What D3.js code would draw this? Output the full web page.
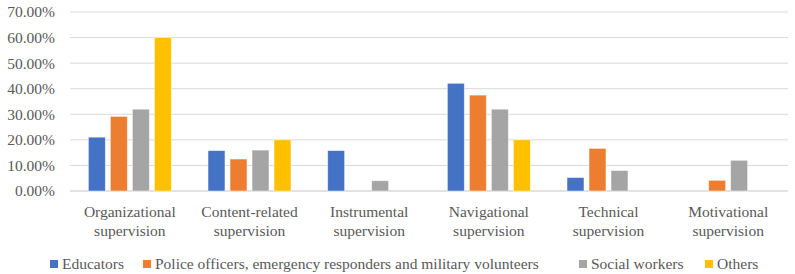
<!DOCTYPE html>
<html>
<head>
<meta charset="utf-8">
<script src="https://cdn.jsdelivr.net/npm/d3@7"></script>
<style>
  body { margin: 0; background: #fff; }
</style>
</head>
<body>
<div id="chart"></div>
<script>
// Categories (two-line labels) and series
var categories = [
    ["Organizational", "supervision"],
    ["Content-related", "supervision"],
    ["Instrumental", "supervision"],
    ["Navigational", "supervision"],
    ["Technical", "supervision"],
    ["Motivational", "supervision"]
];
var seriesNames = ["Educators", "Police officers, emergency responders and military volunteers", "Social workers", "Others"];
var educators = [21.05, 15.79, 15.79, 42.11, 5.26, 0];
var police = [29.17, 12.5, 0, 37.5, 16.67, 4.17];
var socialWorkers = [32, 16, 4, 32, 8, 12];
var others = [60, 20, 0, 20, 0, 0];
var yTicks = [0, 10, 20, 30, 40, 50, 60, 70];
var colors = ["#4472C4", "#ED7D31", "#A5A5A5", "#FFC000"];

var allSeries = [educators, police, socialWorkers, others];

var width = 795, height = 274;
var margin = { top: 12, right: 7, bottom: 83, left: 70 };
var innerW = width - margin.left - margin.right;
var innerH = height - margin.top - margin.bottom;

// serif face like the original (Times New Roman)
function serif(sel) {
    sel.attr("fill", "#595959")
        .style("font-family", "'Liberation Serif', 'Times New Roman', serif", "important")
        .style("font-size", "15.5px", "important");
}

var svg = d3.select("#chart").append("svg")
    .attr("width", width)
    .attr("height", height);

var g = svg.append("g").attr("transform", "translate(" + margin.left + "," + margin.top + ")");

var x0 = d3.scaleBand()
    .domain(d3.range(categories.length))
    .range([0, innerW]);

var x1 = d3.scaleBand()
    .domain(d3.range(seriesNames.length))
    .range([0, 88])
    .paddingInner(0.23)
    .paddingOuter(0.115);

var y = d3.scaleLinear().domain([0, 70]).range([innerH, 0]);

// gridlines
g.append("g")
    .selectAll("line")
    .data(yTicks)
    .enter()
    .append("line")
    .attr("x1", 0)
    .attr("x2", innerW)
    .attr("y1", function(d) { return y(d); })
    .attr("y2", function(d) { return y(d); })
    .attr("stroke", "#D9D9D9")
    .attr("stroke-width", function(d) { return d === 0 ? 1.5 : 1; });

// y tick labels
g.append("g")
    .selectAll("text")
    .data(yTicks)
    .enter()
    .append("text")
    .attr("x", -15)
    .attr("y", function(d) { return y(d); })
    .attr("dy", "0.35em")
    .attr("text-anchor", "end")
    .call(serif)
    .text(function(d) { return d.toFixed(2) + "%"; });

// bars
var groups = g.selectAll(".grp")
    .data(categories)
    .enter()
    .append("g")
    .attr("class", "grp")
    .attr("transform", function(d, i) {
        return "translate(" + (x0(i) + x0.bandwidth() / 2 - 44) + ",0)";
    });

groups.selectAll("rect")
    .data(function(d, i) {
        return allSeries.map(function(s, k) { return { k: k, v: s[i] }; });
    })
    .enter()
    .append("rect")
    .filter(function(d) { return d.v > 0; })
    .attr("x", function(d) { return x1(d.k); })
    .attr("width", x1.bandwidth())
    .attr("y", function(d) { return y(d.v); })
    .attr("height", function(d) { return y(0) - y(d.v); })
    .attr("fill", function(d) { return colors[d.k]; })
    .attr("stroke", "#fff")
    .attr("stroke-opacity", 0.6)
    .attr("stroke-width", 0.75);

// category labels
var labels = g.append("g")
    .selectAll("text")
    .data(categories)
    .enter()
    .append("text")
    .attr("text-anchor", "middle")
    .attr("x", function(d, i) { return x0(i) + x0.bandwidth() / 2; })
    .attr("y", innerH + 26)
    .call(serif);

labels.selectAll("tspan")
    .data(function(d) { return d; })
    .enter()
    .append("tspan")
    .attr("x", function() { return d3.select(this.parentNode).attr("x"); })
    .attr("dy", function(d, i) { return i === 0 ? 0 : 19; })
    .text(function(d) { return d; });

// legend
var legendX = [50, 143, 579, 705];
var legend = svg.append("g")
    .selectAll("g")
    .data(seriesNames)
    .enter()
    .append("g")
    .attr("transform", function(d, i) { return "translate(" + legendX[i] + ",264)"; });

legend.append("rect")
    .attr("x", 0)
    .attr("y", -4)
    .attr("width", 8)
    .attr("height", 8)
    .attr("fill", function(d, i) { return colors[i]; });

legend.append("text")
    .attr("x", 12)
    .attr("dy", "0.35em")
    .call(serif)
    .text(function(d) { return d; });
</script>
</body>
</html>
